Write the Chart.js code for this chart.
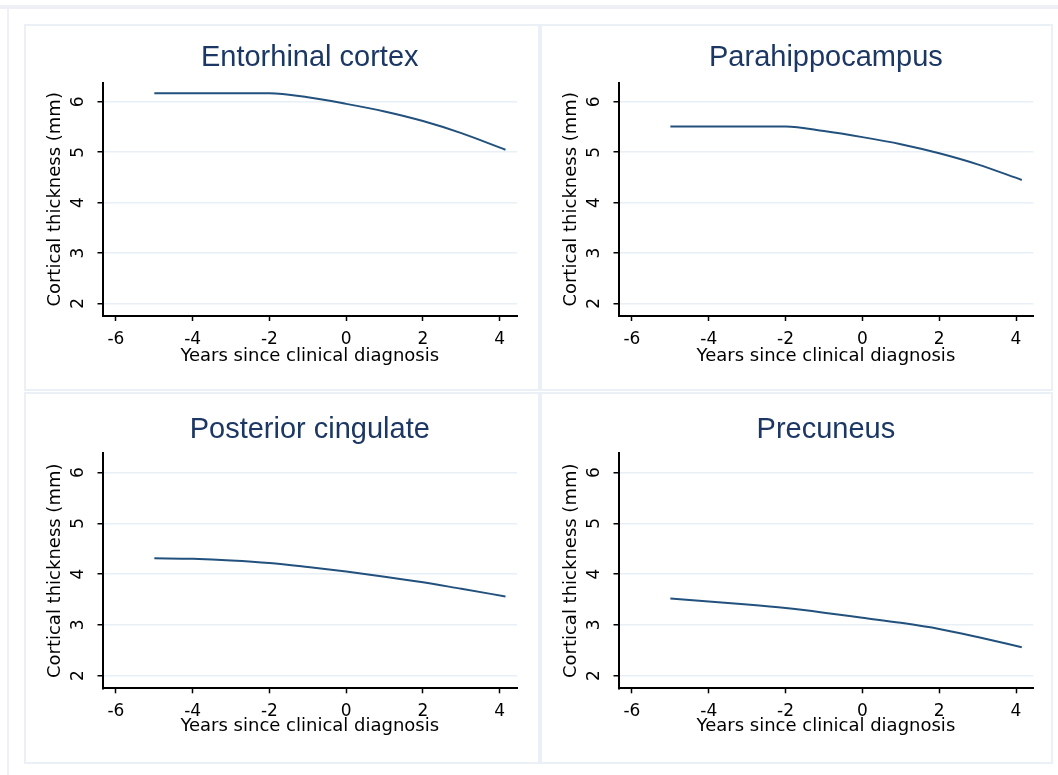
<!DOCTYPE html>
<html>

<head>
    <title>Cortical thickness by years since clinical diagnosis</title>
    <meta name="viewport" content="width=device-width, initial-scale=1.0">
    <script src="https://cdn.jsdelivr.net/npm/chart.js"></script>
    <style type="text/css">
        body {
            margin: 0;
            background: #fff;
            width: 1058px;
            height: 775px;
            position: relative;
            overflow: hidden;
        }

        .top-band {
            position: absolute;
            left: 0;
            top: 5px;
            width: 1058px;
            height: 4px;
            background: #eef0f6;
        }

        .side-line {
            position: absolute;
            left: 7px;
            top: 9px;
            width: 2px;
            height: 766px;
            background: #eef0f6;
        }

        .panel {
            position: absolute;
            box-sizing: border-box;
            border: 2px solid #ebf0f7;
            background: #fff;
        }

        .panel div {
            position: relative;
        }
    </style>
</head>

<body>
    <div class="top-band"></div>
    <div class="side-line"></div>

    <div class="panel" style="left:24px; top:24px; width:516px; height:367px">
        <div style="width:512px; height:363px"><canvas id="c1"></canvas></div>
    </div>
    <div class="panel" style="left:540px; top:24px; width:513px; height:367px">
        <div style="width:509px; height:363px"><canvas id="c2"></canvas></div>
    </div>
    <div class="panel" style="left:24px; top:392px; width:516px; height:372px">
        <div style="width:512px; height:368px"><canvas id="c3"></canvas></div>
    </div>
    <div class="panel" style="left:540px; top:392px; width:513px; height:372px">
        <div style="width:509px; height:368px"><canvas id="c4"></canvas></div>
    </div>

    <script>
        // fitted thickness (mm) at each year relative to diagnosis
        const years = [-5, -4, -3, -2, -1, 0, 1, 2, 3, 4.15];
        const entorhinal = [6.17, 6.17, 6.17, 6.17, 6.09, 5.96, 5.81, 5.62, 5.38, 5.05];
        const parahippocampus = [5.51, 5.51, 5.51, 5.51, 5.42, 5.30, 5.16, 4.98, 4.76, 4.45];
        const posteriorCingulate = [4.31, 4.30, 4.27, 4.22, 4.14, 4.05, 3.95, 3.84, 3.71, 3.56];
        const precuneus = [3.52, 3.46, 3.40, 3.33, 3.24, 3.14, 3.04, 2.92, 2.76, 2.56];

        const xTicks = [-6, -4, -2, 0, 2, 4];
        const yTicks = [2, 3, 4, 5, 6];

        const axisFont = { family: "'DejaVu Sans'", size: 17 };
        const titleFont = { family: "'DejaVu Sans'", size: 18 };

        const panels = [
            { id: 'c1', title: 'Entorhinal cortex', values: entorhinal, padRight: 21, titleTop: 14.9, titleBottom: 7, xHeight: 73, xTitleBottom: 22.2 },
            { id: 'c2', title: 'Parahippocampus', values: parahippocampus, padRight: 17.7, titleTop: 14.9, titleBottom: 7, xHeight: 73, xTitleBottom: 22.2 },
            { id: 'c3', title: 'Posterior cingulate', values: posteriorCingulate, padRight: 21, titleTop: 18.6, titleBottom: 5.9, xHeight: 73.7, xTitleBottom: 24.5 },
            { id: 'c4', title: 'Precuneus', values: precuneus, padRight: 17.7, titleTop: 18.6, titleBottom: 5.9, xHeight: 73.7, xTitleBottom: 24.5 }
        ];

        panels.forEach(function (p) {
            const ctx = document.getElementById(p.id).getContext('2d');
            new Chart(ctx, {
                type: 'line',
                data: {
                    datasets: [{
                        data: years.map((x, i) => ({ x: x, y: p.values[i] })),
                        borderColor: '#22517d',
                        borderWidth: 2,
                        pointRadius: 0,
                        cubicInterpolationMode: 'monotone',
                        fill: false
                    }]
                },
                options: {
                    responsive: true,
                    maintainAspectRatio: false,
                    animation: false,
                    devicePixelRatio: 1,
                    layout: { padding: { left: 0, right: p.padRight, top: 0, bottom: 0 } },
                    plugins: {
                        legend: { display: false },
                        tooltip: { enabled: false },
                        title: {
                            display: true,
                            fullSize: false,
                            text: p.title,
                            color: '#1c3763',
                            font: { family: "'Liberation Sans'", size: 29, weight: 'normal', lineHeight: 1.2 },
                            padding: { top: p.titleTop, bottom: p.titleBottom }
                        }
                    },
                    scales: {
                        x: {
                            type: 'linear',
                            min: -6.35,
                            max: 4.45,
                            afterBuildTicks: s => { s.ticks = xTicks.map(v => ({ value: v })); },
                            afterFit: s => { s.height = p.xHeight; },
                            grid: { drawOnChartArea: false, drawTicks: true, tickLength: 5, tickColor: '#000', tickWidth: 1.5 },
                            border: { display: true, color: '#000', width: 2 },
                            ticks: { color: '#000', font: axisFont, padding: 8.5, minRotation: 0, maxRotation: 0, autoSkip: false },
                            title: {
                                display: true,
                                text: 'Years since clinical diagnosis',
                                color: '#000',
                                font: titleFont,
                                padding: { top: 0, bottom: p.xTitleBottom }
                            }
                        },
                        y: {
                            type: 'linear',
                            min: 1.75,
                            max: 6.38,
                            afterBuildTicks: s => { s.ticks = yTicks.map(v => ({ value: v })); },
                            afterFit: s => { s.width = 76.5; },
                            grid: { color: '#e9eff6', lineWidth: 1.5, drawTicks: true, tickLength: 5, tickColor: '#000', tickWidth: 1.5 },
                            border: { display: true, color: '#000', width: 2 },
                            ticks: { color: '#000', font: axisFont, padding: 14, minRotation: 90, maxRotation: 90, crossAlign: 'center', autoSkip: false },
                            title: {
                                display: true,
                                text: 'Cortical thickness (mm)',
                                color: '#000',
                                font: titleFont,
                                padding: { top: 18.2, bottom: 0 }
                            }
                        }
                    }
                }
            });
        });
    </script>
</body>

</html>
